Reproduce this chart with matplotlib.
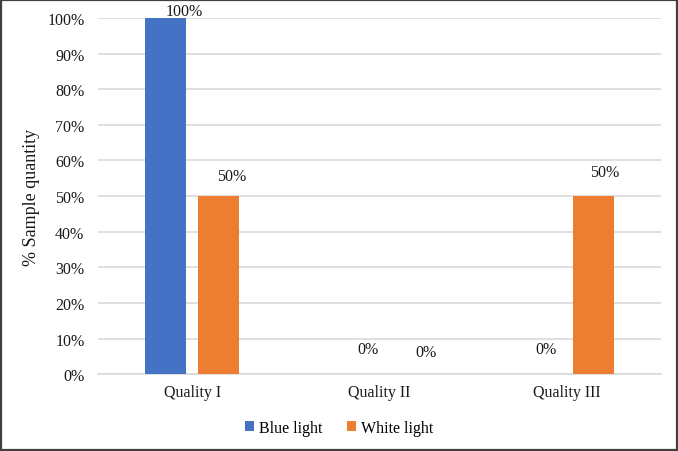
import numpy as np
import matplotlib.pyplot as plt
from matplotlib.patches import Rectangle

# categories and series values (fraction of samples)
categories = ['Quality I', 'Quality II', 'Quality III']
blue_light = [1.0, 0.0, 0.0]
white_light = [0.5, 0.0, 0.5]
series_names = ['Blue light', 'White light']

# label nudges in pixels (Excel labels were dragged around a bit)
blue_nudge = [(19, 7), (15, 25), (5, 25)]
white_nudge = [(13, 20), (20, 22), (11, 24)]

plt.rcParams['font.family'] = ['Liberation Serif', 'DejaVu Serif']

fig = plt.figure(figsize=(6.78, 4.52), dpi=100)
ax = fig.add_axes([0.145, 0.170, 0.830, 0.788])

x = np.arange(len(categories))
w = 0.219
off = 0.1415
b1 = ax.bar(x - off, blue_light, w, color='#4472C4', label=series_names[0], zorder=3)
b2 = ax.bar(x + off, white_light, w, color='#ED7D31', label=series_names[1], zorder=3)

for bars, vals, nudges in [(b1, blue_light, blue_nudge), (b2, white_light, white_nudge)]:
    for r, v, (dx, dy) in zip(bars, vals, nudges):
        ax.annotate('%d%%' % round(v * 100), (r.get_x() + r.get_width() / 2, v),
                    xytext=(dx, dy), textcoords='offset pixels',
                    ha='center', va='center', fontsize=11.5, color='#1a1a1a')

ax.set_xlim(-0.5, 2.5)
ax.set_ylim(0, 1.0)
ax.set_yticks(np.arange(0, 1.01, 0.1))
ax.set_yticklabels(['%d%%' % round(t * 100) for t in np.arange(0, 1.01, 0.1)])
ax.set_xticks(x)
ax.set_xticklabels(categories)
ax.tick_params(axis='y', length=0, pad=10, labelsize=11.5, labelcolor='#1a1a1a')
ax.tick_params(axis='x', length=0, pad=7, labelsize=11.5, labelcolor='#1a1a1a')
ax.grid(axis='y', color='#d9d9d9', linewidth=1.2, zorder=0)
for s in ['top', 'right', 'left']:
    ax.spines[s].set_visible(False)
ax.spines['bottom'].set_color('#d9d9d9')
ax.spines['bottom'].set_linewidth(1.2)
ax.set_ylabel('% Sample quantity', fontsize=13, color='#1a1a1a', labelpad=5)

fig.legend(loc='center', bbox_to_anchor=(0.5, 0.051), ncol=2, frameon=False,
           fontsize=11.5, handlelength=0.6, handleheight=0.6, handletextpad=0.3,
           columnspacing=1.5)

fig.patches.append(Rectangle((0.002, 0.003), 0.996, 0.994, transform=fig.transFigure,
                             fill=False, edgecolor='#404040', linewidth=1.6))

fig.savefig('out.png', dpi=100)
